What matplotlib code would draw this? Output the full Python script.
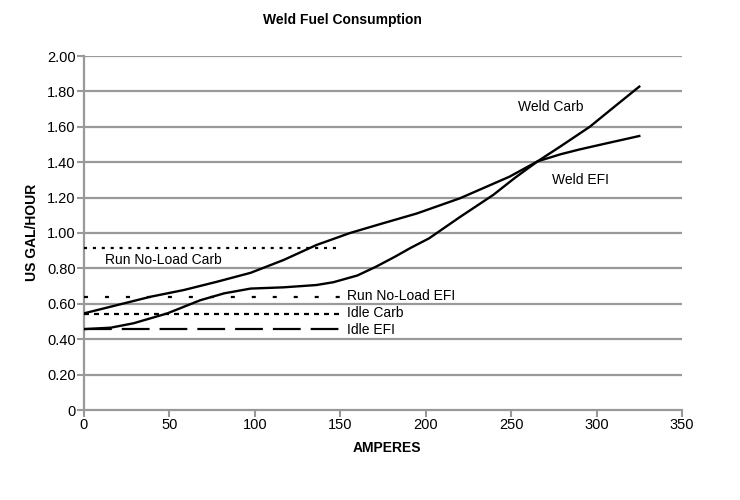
import matplotlib
matplotlib.use("Agg")
import matplotlib.pyplot as plt

plt.rcParams['font.family'] = ['Liberation Sans', 'DejaVu Sans']
plt.rcParams['lines.scale_dashes'] = False

# Data
weld_carb_x = [0, 19.5, 39, 58.5, 78, 97.5, 116.7, 136, 155.7, 175, 194.7, 220, 249, 265.5, 279, 296, 310, 325]
weld_carb_y = [0.546, 0.593, 0.64, 0.678, 0.725, 0.775, 0.847, 0.932, 1.0, 1.055, 1.11, 1.196, 1.318, 1.405, 1.49, 1.60, 1.71, 1.827]

weld_efi_x = [0, 15.6, 29, 48.8, 68, 82, 97.5, 116.7, 136, 146, 160, 171, 182, 191, 202, 220, 239.5, 252, 265.5, 279, 290, 306, 325]
weld_efi_y = [0.457, 0.465, 0.49, 0.546, 0.62, 0.659, 0.686, 0.693, 0.706, 0.722, 0.76, 0.81, 0.866, 0.915, 0.97, 1.09, 1.215, 1.31, 1.405, 1.445, 1.472, 1.507, 1.548]

flat_x = [0, 150]
run_noload_carb = 0.915
run_noload_efi = 0.64
idle_carb = 0.54
idle_efi = 0.457

x_ticks = [0, 50, 100, 150, 200, 250, 300, 350]
y_ticks = [0, 0.2, 0.4, 0.6, 0.8, 1.0, 1.2, 1.4, 1.6, 1.8, 2.0]
y_tick_labels = ['0', '0.20', '0.40', '0.60', '0.80', '1.00', '1.20', '1.40', '1.60', '1.80', '2.00']

fig = plt.figure(figsize=(7.4, 5.0), dpi=100)
ax = fig.add_axes([84/740, 1-410/500, (682-84)/740, (410-56)/500])

grid_c = '#999999'
for yv in y_ticks[1:]:
    ax.axhline(yv, color=grid_c, lw=1.6, zorder=1)

ax.plot(weld_carb_x, weld_carb_y, color='black', lw=1.7, zorder=3, solid_joinstyle='round')
ax.plot(weld_efi_x, weld_efi_y, color='black', lw=1.7, zorder=3, solid_joinstyle='round')

ax.plot(flat_x, [run_noload_carb]*2, color='black', lw=1.6, dashes=(2.2, 4.2), zorder=3)
ax.plot(flat_x, [run_noload_efi]*2, color='black', lw=1.6, dashes=(2.9, 12.2), zorder=3)
ax.plot(flat_x, [idle_carb]*2, color='black', lw=1.6, dashes=(3.6, 3.6), zorder=3)
ax.plot(flat_x, [idle_efi]*2, color='black', lw=1.6, dashes=(20, 7.2), zorder=3)

fs = 10
ax.text(12, 0.845, 'Run No-Load Carb', fontsize=fs, va='center', ha='left')
ax.text(154, 0.645, 'Run No-Load EFI', fontsize=fs, va='center', ha='left')
ax.text(154, 0.548, 'Idle Carb', fontsize=fs, va='center', ha='left')
ax.text(154, 0.452, 'Idle EFI', fontsize=fs, va='center', ha='left')
ax.text(254, 1.71, 'Weld Carb', fontsize=fs, va='center', ha='left')
ax.text(274, 1.30, 'Weld EFI', fontsize=fs, va='center', ha='left')

ax.set_xlim(0, 350)
ax.set_ylim(0, 2.0)
ax.set_xticks(x_ticks)
ax.set_xticklabels([str(v) for v in x_ticks], fontsize=10.5)
ax.set_yticks(y_ticks)
ax.set_yticklabels(y_tick_labels, fontsize=10.5)
ax.tick_params(axis='both', direction='out', length=5, width=1.5, color=grid_c, pad=1)

for s in ['top', 'right']:
    ax.spines[s].set_visible(False)
for s in ['left', 'bottom']:
    ax.spines[s].set_color(grid_c)
    ax.spines[s].set_linewidth(1.6)

fig.text(342/740, 1-20/500, 'Weld Fuel Consumption', fontsize=10, fontweight='bold', ha='center', va='center')
fig.text(387/740, 1-448/500, 'AMPERES', fontsize=10, fontweight='bold', ha='center', va='center')
fig.text(32/740, 1-232/500, 'US GAL/HOUR', fontsize=10, fontweight='bold', ha='center', va='center', rotation=90)

fig.savefig('out.png', dpi=100)
